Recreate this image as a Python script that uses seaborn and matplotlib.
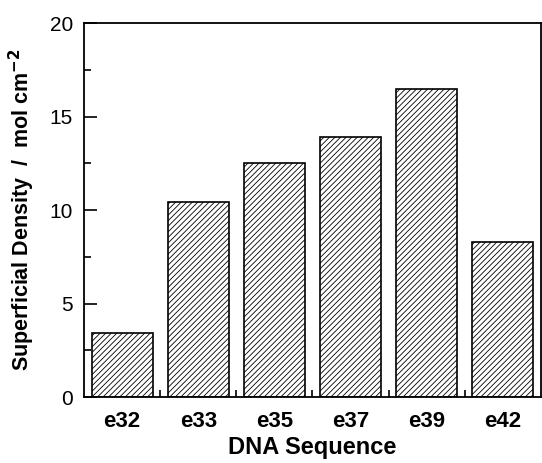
import matplotlib
matplotlib.use("Agg")
import matplotlib.pyplot as plt
from matplotlib.ticker import MultipleLocator, FixedLocator
import seaborn as sns

sns.set_theme(style="ticks")
plt.rcParams['font.family'] = ['Liberation Sans', 'DejaVu Sans']
plt.rcParams['hatch.linewidth'] = 0.6
plt.rcParams['hatch.color'] = '#333333'

sequences = ["e32", "e33", "e35", "e37", "e39", "e42"]
density = [3.4, 10.45, 12.5, 13.9, 16.5, 8.3]

fig = plt.figure(figsize=(5.42, 4.63), dpi=100)
ax = fig.add_axes([0.155, 0.1425, 0.843, 0.8075])

sns.barplot(x=sequences, y=density, color="white", edgecolor="black",
            linewidth=1.2, width=0.8, ax=ax)
for p in ax.patches:
    p.set_hatch("//////")

ax.set_xlim(-0.5, len(sequences) - 0.5)
ax.set_ylim(0, 20)
ax.yaxis.set_major_locator(MultipleLocator(5))
ax.yaxis.set_minor_locator(MultipleLocator(2.5))
ax.xaxis.set_minor_locator(FixedLocator([i + 0.5 for i in range(len(sequences) - 1)]))

for s in ax.spines.values():
    s.set_visible(True)
    s.set_linewidth(1.3)
    s.set_color("black")

ax.tick_params(which="major", direction="in", length=9.5, width=1.2, color="black")
ax.tick_params(which="minor", direction="in", length=5, width=1.2, color="black")
ax.tick_params(axis="y", labelsize=15, pad=8, labelcolor="black")
ax.tick_params(axis="x", labelsize=16, pad=10, labelcolor="black")
for lab in ax.get_xticklabels():
    lab.set_fontweight("bold")

ax.set_xlabel("DNA Sequence", fontsize=17, fontweight="bold", labelpad=3,
              color="black")
ax.set_ylabel(r"Superficial Density  /  mol cm$^{\mathbf{-2}}$", fontsize=15.5,
              fontweight="bold", labelpad=9, color="black")

fig.savefig("out.png", dpi=100)
